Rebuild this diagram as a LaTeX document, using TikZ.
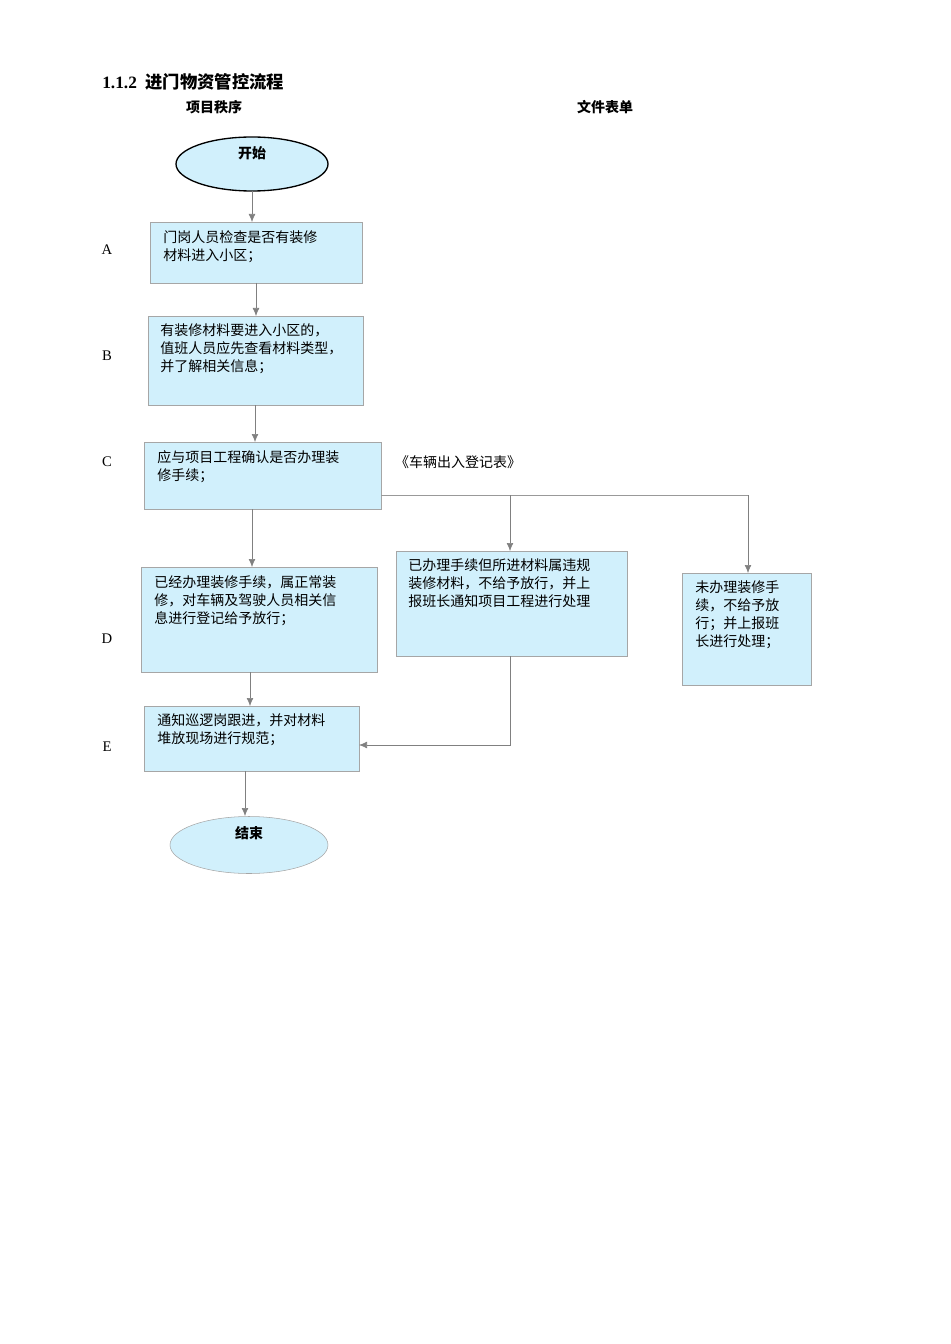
\documentclass[tikz,border=0pt]{standalone}
\usepackage{fontspec}
\setmainfont{Liberation Serif}
\newfontfamily\cjk{Noto Sans CJK SC}
\usetikzlibrary{arrows.meta,shapes.geometric}
\begin{document}
\begin{tikzpicture}[x=0.75pt,y=-0.75pt,
  box/.style={draw=gray!70,fill=cyan!18,anchor=north west,inner sep=0pt},
  txt/.style={anchor=north west,align=left,inner sep=0pt,font=\cjk\fontsize{10.5}{13.5}\selectfont},
  lbl/.style={font=\fontsize{11}{13}\selectfont},
  con/.style={draw=gray,line width=0.4pt,-{Latex[length=6pt,width=5pt]}},
  ln/.style={draw=gray!80,line width=0.4pt}]
\useasboundingbox (0,0) rectangle (950,1344);
\node[anchor=west,inner sep=0pt,font=\bfseries\fontsize{13}{15}\selectfont] (title) at (102,82) {1.1.2\ \ {\cjk 进门物资管控流程}};
\node[font=\cjk\bfseries\fontsize{10.5}{13}\selectfont] (h1) at (214,107) {项目秩序};
\node[font=\cjk\bfseries\fontsize{10.5}{13}\selectfont] (h2) at (605,107) {文件表单};
\node[draw,line width=1pt,fill=cyan!18,ellipse,minimum width=114pt,minimum height=40.5pt,inner sep=0pt] (S) at (252,164) {};
\node[font=\cjk\bfseries\fontsize{10.5}{13}\selectfont] (St) at (252,153) {开始};
\node[box,minimum width=159pt,minimum height=45.75pt] (A) at (150,222) {};
\node[txt] (At) at (163,230) {门岗人员检查是否有装修\\材料进入小区；};
\node[box,minimum width=161.25pt,minimum height=66.75pt] (B) at (148,316) {};
\node[txt] (Bt) at (160,323) {有装修材料要进入小区的，\\值班人员应先查看材料类型，\\并了解相关信息；};
\node[box,minimum width=177.75pt,minimum height=50.25pt] (C) at (144,442) {};
\node[txt] (Ct) at (157,450) {应与项目工程确认是否办理装\\修手续；};
\node[box,minimum width=177pt,minimum height=78.75pt] (D1) at (141,567) {};
\node[txt] (D1t) at (154,575) {已经办理装修手续，属正常装\\修，对车辆及驾驶人员相关信\\息进行登记给予放行；};
\node[box,minimum width=173.25pt,minimum height=78.75pt] (D2) at (396,551) {};
\node[txt] (D2t) at (408,558) {已办理手续但所进材料属违规\\装修材料，不给予放行，并上\\报班长通知项目工程进行处理};
\node[box,minimum width=96.75pt,minimum height=84pt] (D3) at (682,573) {};
\node[txt] (D3t) at (695,580) {未办理装修手\\续，不给予放\\行；并上报班\\长进行处理；};
\node[box,minimum width=161.25pt,minimum height=48.75pt] (E) at (144,706) {};
\node[txt] (Et) at (157,713) {通知巡逻岗跟进，并对材料\\堆放现场进行规范；};
\node[draw=gray!70,fill=cyan!18,ellipse,minimum width=118.5pt,minimum height=42.75pt,inner sep=0pt] (End) at (249,845) {};
\node[font=\cjk\bfseries\fontsize{10.5}{13}\selectfont] (Endt) at (249,833) {结束};
\node[font=\cjk\fontsize{10.5}{13}\selectfont] (form) at (458,462) {《车辆出入登记表》};
\foreach \l/\y in {A/250,B/356,C/462,D/639,E/747} \node[lbl] (L\l) at (107,\y) {\l};
\coordinate (s1) at (252,191); \coordinate (a1) at (252,222);
\coordinate (a2) at (256,283); \coordinate (b1) at (256,316);
\coordinate (b2) at (255,405); \coordinate (c1) at (255,442);
\coordinate (c2) at (252,509); \coordinate (d1) at (252,567);
\coordinate (br0) at (381,495); \coordinate (br1) at (510,495); \coordinate (br2) at (748,495);
\coordinate (d2) at (510,551); \coordinate (d3) at (748,573);
\coordinate (d1b) at (250,672); \coordinate (e1) at (250,706);
\coordinate (d2b) at (510,656); \coordinate (k) at (510,745); \coordinate (e2) at (359,745);
\coordinate (e3) at (245,771); \coordinate (f1) at (245,816);
\draw[con] (s1) -- (a1);
\draw[con] (a2) -- (b1);
\draw[con] (b2) -- (c1);
\draw[con] (c2) -- (d1);
\draw[ln] (br0) -- (br2);
\draw[con] (br1) -- (d2);
\draw[con] (br2) -- (d3);
\draw[con] (d1b) -- (e1);
\draw[con] (d2b) -- (k) -- (e2);
\draw[con] (e3) -- (f1);
\end{tikzpicture}
\end{document}
